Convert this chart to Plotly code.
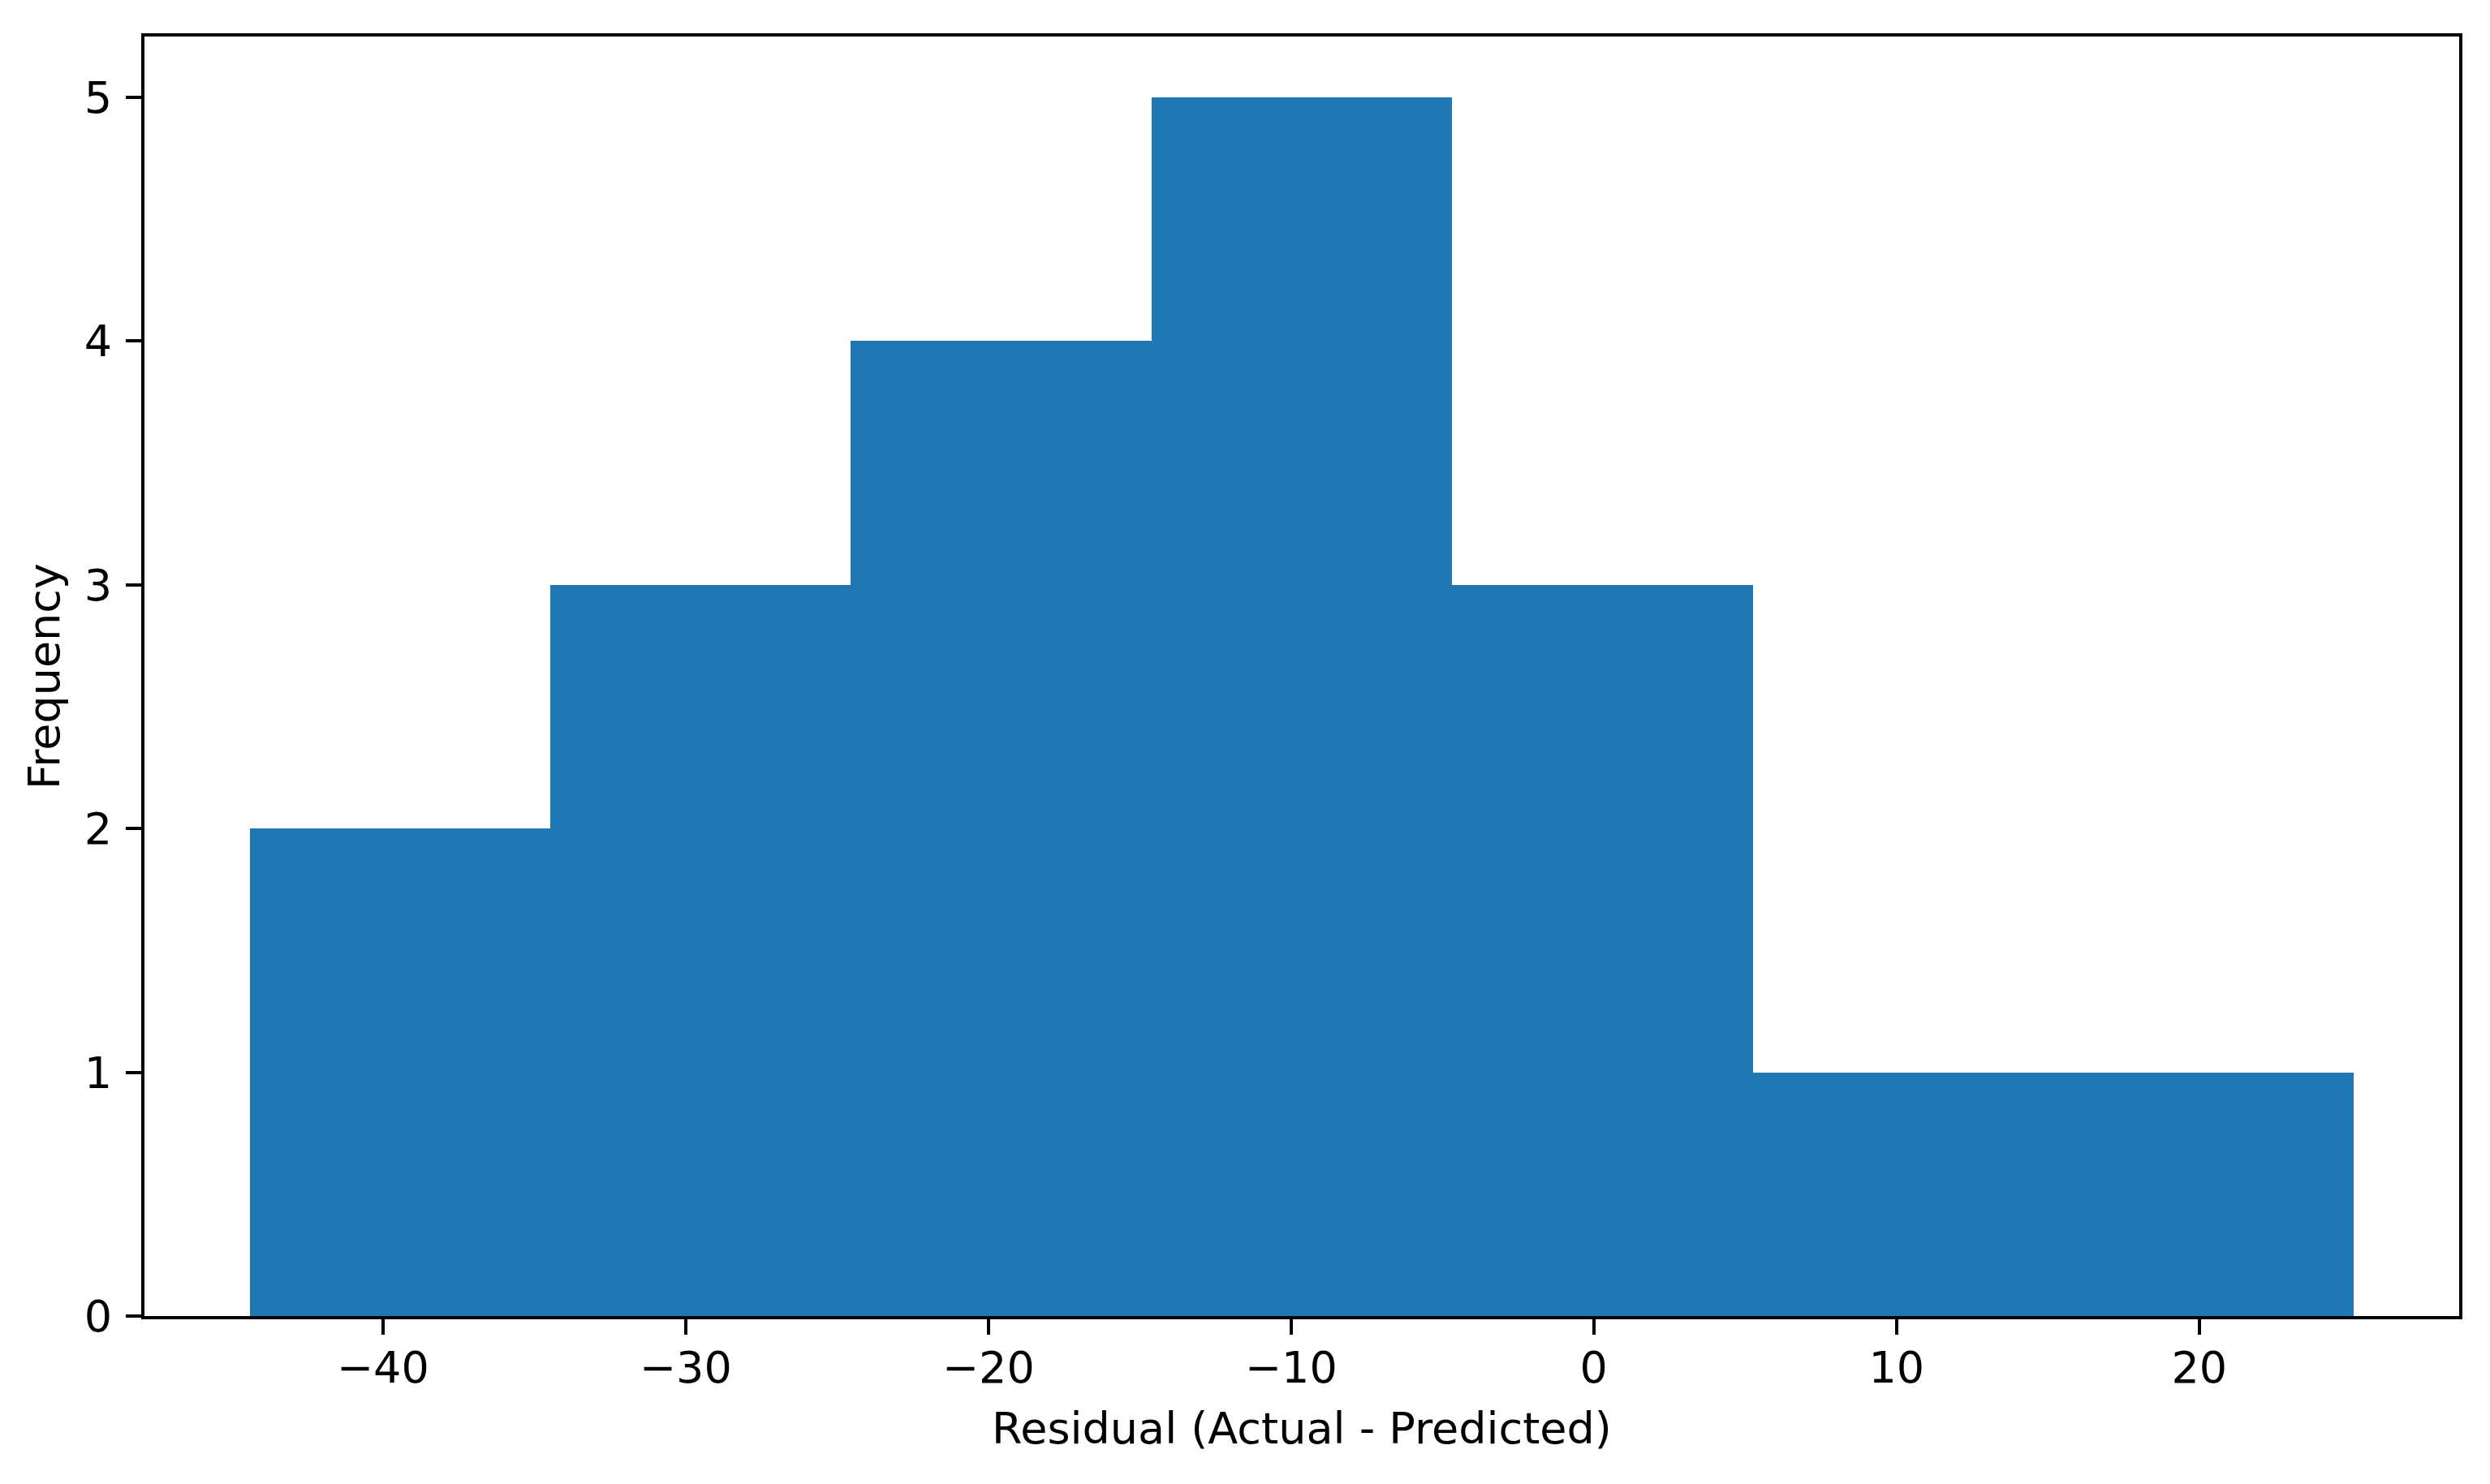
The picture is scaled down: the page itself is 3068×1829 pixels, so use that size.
import plotly.graph_objects as go

# histogram of residuals
bin_edges = [-44.40, -34.47, -24.54, -14.61, -4.68, 5.25, 15.18, 25.11]
counts = [2, 3, 4, 5, 3, 1, 1]
x_ticks = [-40, -30, -20, -10, 0, 10, 20]
y_ticks = [0, 1, 2, 3, 4, 5]

centers = [(a + b) / 2 for a, b in zip(bin_edges[:-1], bin_edges[1:])]
widths = [b - a for a, b in zip(bin_edges[:-1], bin_edges[1:])]

FONT = dict(family="DejaVu Sans, sans-serif", size=54, color="black")
AXIS = dict(
    showline=True, mirror=True, linecolor="black", linewidth=4.4,
    ticks="outside", ticklen=19, tickwidth=4.4, tickcolor="black",
    showgrid=False, zeroline=False, tickfont=FONT,
)

fig = go.Figure(
    go.Bar(
        x=centers, y=counts, width=widths,
        marker=dict(color="#1f77b4", line=dict(width=0)),
        hoverinfo="x+y",
    )
)

span = bin_edges[-1] - bin_edges[0]
fig.update_layout(
    width=3068, height=1829,
    margin=dict(l=170, r=46, t=37, b=215),
    paper_bgcolor="white", plot_bgcolor="white",
    font=FONT, showlegend=False, bargap=0,
)
fig.update_xaxes(
    **AXIS, range=[bin_edges[0] - 0.05 * span, bin_edges[-1] + 0.05 * span],
    tickvals=x_ticks, ticklabelstandoff=-6,
    title=dict(text="Residual (Actual - Predicted)", font=FONT, standoff=26),
)
fig.update_yaxes(
    **AXIS, range=[0, 5.25], tickvals=y_ticks, ticklabelstandoff=6,
    title=dict(text="Frequency", font=FONT, standoff=14),
)

fig.write_html("out.html")
